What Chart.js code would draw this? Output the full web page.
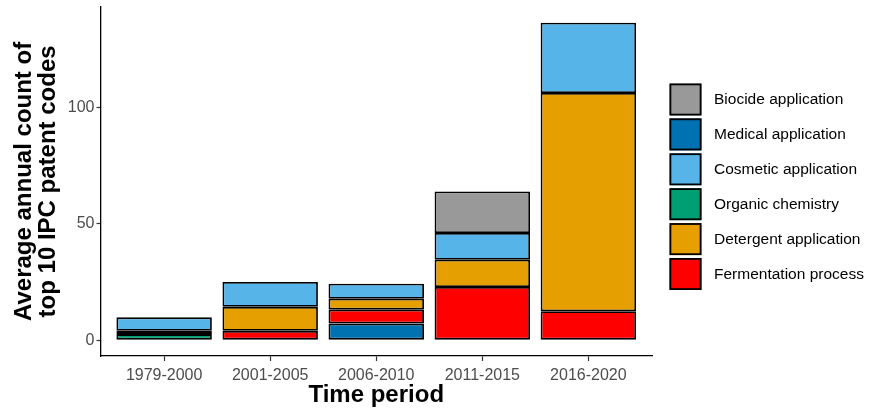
<!DOCTYPE html>
<html>
<head>
<meta charset="utf-8">
<script src="https://cdn.jsdelivr.net/npm/chart.js@4.4.1/dist/chart.umd.min.js"></script>
<style>
  html, body { margin: 0; padding: 0; background: #ffffff; }
  #wrap { width: 873px; height: 408px; position: relative; }
</style>
</head>
<body>
<div id="wrap"><canvas id="c" width="873" height="408"></canvas></div>
<script>
// Categories (time periods)
const categories = ['1979-2000', '2001-2005', '2006-2010', '2011-2015', '2016-2020'];

// Series values (average annual count)
const medical      = [0,   0,    7.1, 0,    0];
const organic      = [2.6, 0,    0,   0,    0];
const fermentation = [1.4, 4.0,  6.0, 22.8, 12.4];
const detergent    = [0,   10.3, 4.7, 11.7, 93.7];
const cosmetic     = [5.8, 10.7, 6.4, 11.5, 30.2];
const biocide      = [0,   0,    0,   17.8, 0];

// Tick values
const yTicks = [0, 50, 100];

// Legend order (top to bottom)
const legendOrder = ['Biocide application', 'Medical application', 'Cosmetic application',
                     'Organic chemistry', 'Detergent application', 'Fermentation process'];

const colors = {
  'Biocide application': '#999999',
  'Medical application': '#0072B2',
  'Cosmetic application': '#56B4E9',
  'Organic chemistry': '#009E73',
  'Detergent application': '#E69F00',
  'Fermentation process': '#FF0000'
};

function toPoints(arr) {
  return arr.map((v, i) => ({ x: i + 1, y: v === 0 ? null : v }));
}

function ds(label, arr) {
  return {
    label: label,
    data: toPoints(arr),
    backgroundColor: colors[label],
    borderColor: '#000000',
    borderWidth: 1.8,
    borderSkipped: false,
    categoryPercentage: 0.9,
    barPercentage: 1.0
  };
}

// stacking order from bottom to top
const datasets = [
  ds('Medical application', medical),
  ds('Organic chemistry', organic),
  ds('Fermentation process', fermentation),
  ds('Detergent application', detergent),
  ds('Cosmetic application', cosmetic),
  ds('Biocide application', biocide)
];

const FONT = "'Liberation Sans', Arial, sans-serif";

const legendPlugin = {
  id: 'customLegend',
  afterDraw(chart) {
    const ctx = chart.ctx;
    ctx.save();
    const x0 = 669.5, y0 = 83.5, box = 32, pitch = 34.9;
    legendOrder.forEach((name, i) => {
      const y = y0 + i * pitch;
      ctx.fillStyle = colors[name];
      ctx.fillRect(x0, y, box, box);
      ctx.lineWidth = 1.8;
      ctx.strokeStyle = '#000000';
      ctx.strokeRect(x0 + 0.9, y + 0.9, box - 1.8, box - 1.8);
      ctx.fillStyle = '#000000';
      ctx.font = '15.5px ' + FONT;
      ctx.textAlign = 'left';
      ctx.textBaseline = 'middle';
      ctx.fillText(name, 714, y + box / 2 + 0.5);
    });
    ctx.restore();
  }
};

new Chart(document.getElementById('c'), {
  type: 'bar',
  data: { datasets: datasets },
  plugins: [legendPlugin],
  options: {
    responsive: false,
    animation: false,
    devicePixelRatio: 1,
    layout: { padding: { top: 5, right: 221, left: 0, bottom: 0 } },
    plugins: { legend: { display: false }, tooltip: { enabled: false } },
    scales: {
      x: {
        type: 'linear',
        stacked: true,
        min: 0.4,
        max: 5.6,
        offset: false,
        afterBuildTicks(scale) {
          scale.ticks = categories.map((c, i) => ({ value: i + 1 }));
        },
        afterFit(scale) { scale.height = 52; },
        ticks: {
          autoSkip: false,
          maxRotation: 0,
          padding: 9,
          color: '#4D4D4D',
          font: { family: FONT, size: 16, lineHeight: 0.66 },
          callback: (v) => categories[Math.round(v) - 1] || ''
        },
        grid: {
          display: true,
          drawOnChartArea: false,
          drawTicks: true,
          tickLength: 5,
          tickColor: '#333333',
          tickWidth: 1.2,
          offset: false
        },
        border: { display: true, color: '#000000', width: 1.3 },
        title: {
          display: true,
          text: 'Time period',
          color: '#000000',
          font: { family: FONT, size: 24, weight: 'bold', lineHeight: 1.0 },
          padding: { top: 0, bottom: 1 }
        }
      },
      y: {
        type: 'linear',
        stacked: true,
        min: -6.8,
        max: 143.1,
        afterBuildTicks(scale) {
          scale.ticks = yTicks.map(v => ({ value: v }));
        },
        afterFit(scale) { scale.width = 100.5; },
        ticks: {
          padding: 2,
          color: '#4D4D4D',
          font: { family: FONT, size: 16, lineHeight: 0.6 }
        },
        grid: {
          display: true,
          drawOnChartArea: false,
          drawTicks: true,
          tickLength: 4,
          tickColor: '#333333',
          tickWidth: 1.2
        },
        border: { display: true, color: '#000000', width: 1.3 },
        title: {
          display: true,
          text: ['Average annual count of', 'top 10 IPC patent codes'],
          color: '#000000',
          font: { family: FONT, size: 24, weight: 'bold', lineHeight: 1.0 },
          padding: { top: 12, bottom: 0 }
        }
      }
    }
  }
});
</script>
</body>
</html>
